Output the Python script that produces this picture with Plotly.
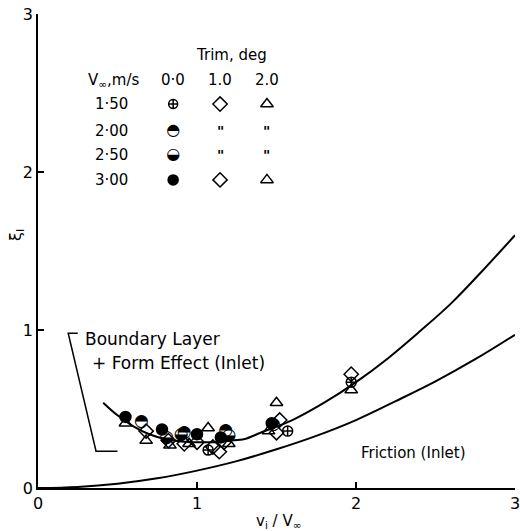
import plotly.graph_objects as go

FONT = "DejaVu Sans"

# ---- curves ----
bl_x = [0.41, 0.5, 0.6, 0.7, 0.8, 0.9, 1.0, 1.1, 1.2, 1.3, 1.4, 1.6, 1.8, 2.0, 2.2, 2.4, 2.6, 2.8, 3.0]
bl_y = [0.54, 0.46, 0.39, 0.34, 0.31, 0.295, 0.29, 0.29, 0.30, 0.31, 0.35, 0.43, 0.54, 0.67, 0.82, 0.99, 1.17, 1.38, 1.60]
fr_x = [0.0, 0.25, 0.5, 0.75, 1.0, 1.25, 1.5, 1.75, 2.0, 2.25, 2.5, 2.75, 3.0]
fr_y = [0.0, 0.007, 0.027, 0.061, 0.11, 0.17, 0.245, 0.33, 0.43, 0.55, 0.675, 0.815, 0.97]

# ---- measured points ----
v300_x = [0.55, 0.78, 1.00, 1.15, 1.47]          # filled circles, trim 0
v300_y = [0.45, 0.37, 0.34, 0.32, 0.41]
v200_x = [0.65, 0.92, 1.18, 1.48]                # upper-half filled
v200_y = [0.42, 0.35, 0.36, 0.40]
v250_x = [0.81, 0.90, 1.20]                      # lower-half filled
v250_y = [0.32, 0.34, 0.33]
v150_x = [1.07, 1.57, 1.97]                      # circle-cross
v150_y = [0.24, 0.36, 0.67]
tr1_x = [0.68, 0.82, 0.92, 1.00, 1.10, 1.17, 1.52, 1.50, 1.97, 1.14]   # diamonds
tr1_y = [0.36, 0.30, 0.28, 0.29, 0.26, 0.29, 0.43, 0.35, 0.72, 0.23]
tr2_x = [0.55, 0.68, 0.83, 0.95, 1.07, 1.20, 1.50, 1.97, 1.45]         # triangles
tr2_y = [0.41, 0.30, 0.27, 0.28, 0.38, 0.28, 0.54, 0.62, 0.36]

# ---- key table ----
key_rows = ["1·50", "2·00", "2·50", "3·00"]
key_row_y = [2.43, 2.26, 2.11, 1.95]
key_cols = ["0·0", "1.0", "2.0"]
key_col_x = [0.85, 1.145, 1.44]

tick_vals = [0, 1, 2, 3]
tick_text = ["0", "1", "2", "3"]
X_MAX = 3.0
Y_MAX = 3.0

fig = go.Figure()

def marker_trace(x, y, symbol, size):
    fig.add_trace(go.Scatter(
        x=x, y=y, mode="markers", cliponaxis=False,
        marker=dict(symbol=symbol, size=size, color="black",
                    line=dict(color="black", width=1.5))))

def glyph_trace(x, y, glyph, size=17):
    fig.add_trace(go.Scatter(
        x=x, y=y, mode="text", text=[glyph] * len(x), cliponaxis=False,
        textposition="middle center",
        textfont=dict(family=FONT, size=size, color="black")))

# curves
fig.add_trace(go.Scatter(x=bl_x, y=bl_y, mode="lines", line=dict(color="black", width=2, shape="spline")))
fig.add_trace(go.Scatter(x=fr_x, y=fr_y, mode="lines", line=dict(color="black", width=2, shape="spline")))

# data
marker_trace(tr2_x, tr2_y, "triangle-up-open", 11)
marker_trace(tr1_x, tr1_y, "diamond-open", 11)
marker_trace(v150_x, v150_y, "circle-cross-open", 10)
glyph_trace(v200_x, v200_y, "◓")
glyph_trace(v250_x, v250_y, "◒")
marker_trace(v300_x, v300_y, "circle", 11)

# key markers
marker_trace([key_col_x[0]], [key_row_y[0]], "circle-cross-open", 9)
glyph_trace([key_col_x[0]], [key_row_y[1]], "◓", 16)
glyph_trace([key_col_x[0]], [key_row_y[2]], "◒", 16)
marker_trace([key_col_x[0]], [key_row_y[3]], "circle", 10)
marker_trace([key_col_x[1], key_col_x[1]], [key_row_y[0], key_row_y[3]], "diamond-open", 11)
marker_trace([key_col_x[2], key_col_x[2]], [key_row_y[0], key_row_y[3]], "triangle-up-open", 11)

ann = []
def text(x, y, s, size=15, xanchor="center", angle=0):
    # positions given in data units; placed on paper so they may sit outside the axes
    ann.append(dict(x=x / X_MAX, y=y / Y_MAX, xref="paper", yref="paper", text=s, showarrow=False,
                    textangle=angle, xanchor=xanchor, yanchor="middle",
                    font=dict(family=FONT, size=size, color="black")))

text(1.22, 2.74, "Trim, deg")
text(0.475, 2.58, "V<sub>∞</sub>,m/s")
for cx, c in zip(key_col_x, key_cols):
    text(cx, 2.58, c)
for ry, r in zip(key_row_y, key_rows):
    text(0.58, ry, r, xanchor="right")
for ry in key_row_y[1:3]:
    for cx in key_col_x[1:]:
        text(cx, ry, "<b>\"</b>", size=14)

text(0.283, 0.945, "Boundary Layer", size=17, xanchor="left")
text(0.327, 0.79, "+ Form Effect (Inlet)", size=17, xanchor="left")
text(2.36, 0.22, "Friction (Inlet)", size=15)
text(-0.14, 1.6, "ξ<sub>I</sub>", size=16, angle=-90)
text(1.51, -0.21, "v<sub>i</sub> / V<sub>∞</sub>", size=15)
# last x tick label sits on the page edge
text(tick_vals[-1], -0.095, tick_text[-1], size=16)

fig.update_layout(
    width=520, height=531, showlegend=False,
    margin=dict(l=38, r=5, t=12, b=43),
    plot_bgcolor="white", paper_bgcolor="white",
    annotations=ann,
    shapes=[dict(type="path", xref="x", yref="y",
                 path="M 0.25 0.98 L 0.19 0.98 L 0.365 0.233 L 0.50 0.233",
                 line=dict(color="black", width=1.5))],
    font=dict(family=FONT, size=16, color="black"),
)
axis_common = dict(range=[0, 3], showgrid=False, zeroline=False, showline=True,
                   linecolor="black", linewidth=1.5,
                   ticks="inside", ticklen=6, tickwidth=1.5, tickcolor="black",
                   tickfont=dict(family=FONT, size=16, color="black"))
fig.update_xaxes(tickvals=tick_vals, ticktext=tick_text[:-1] + [""], **axis_common)
fig.update_yaxes(tickvals=tick_vals, ticktext=tick_text, **axis_common)

fig.write_html("out.html")
